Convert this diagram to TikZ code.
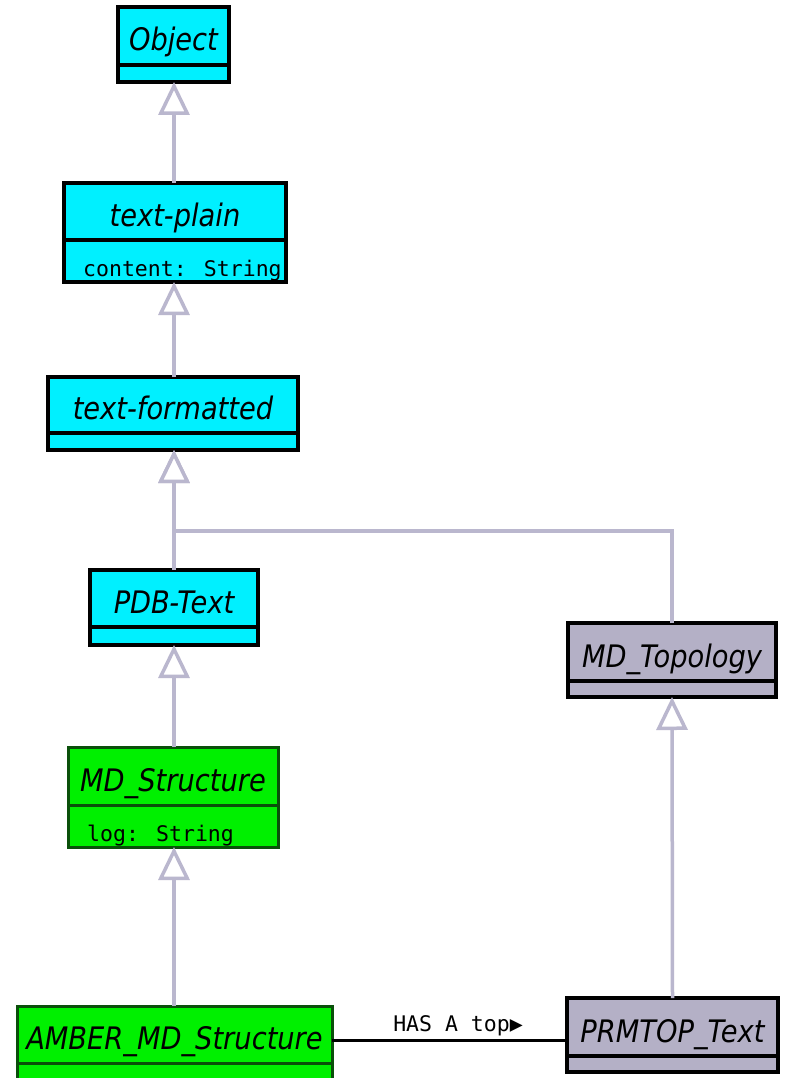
\documentclass[tikz,border=0pt]{standalone}
\usepackage{fontspec}
\newfontfamily\classfont[FakeStretch=0.88]{DejaVu Sans}
\newfontfamily\attrfont{DejaVu Sans Mono}
\usetikzlibrary{arrows.meta,fit}

\definecolor{clscyan}{RGB}{0,240,255}
\definecolor{clsgreen}{RGB}{0,240,0}
\definecolor{clsgray}{RGB}{180,176,198}
\definecolor{greenedge}{RGB}{10,80,10}
\definecolor{genline}{RGB}{186,183,206}

\tikzset{
  classbox/.style={rectangle, inner sep=0pt, outer sep=0pt},
  cyanbox/.style={draw=black, fill=clscyan, line width=3.5pt},
  greenbox/.style={draw=greenedge, fill=clsgreen, line width=3pt},
  graybox/.style={draw=black, fill=clsgray, line width=3.5pt},
  titletext/.style={font=\classfont\itshape\fontsize{31}{36}\selectfont, anchor=base, inner sep=0pt},
  attrtext/.style={font=\attrfont\fontsize{21.5}{24}\selectfont, anchor=base west, inner sep=0pt},
  gen/.style={draw=genline, line width=3.5pt, -{Triangle[length=33pt, width=31pt, fill=white]}},
  assoc/.style={draw=black, line width=3pt},
  assoclabel/.style={font=\attrfont\fontsize{21.5}{24}\selectfont, anchor=base, inner sep=0pt},
}

% #1 node name, #2 box style, #3 left, #4 top, #5 right, #6 divider, #7 bottom,
% #8 class name, #9 attributes
\newcommand{\umlclass}[9]{%
  \node[classbox, #2, fit={(#3,#4) (#5,#7)}] (#1) {};
  \draw[#2, fill=none] (#3,#6) -- (#5,#6);
  \node[titletext] (#1-name) at ({(#3+#5)/2}, #6-14) {#8};
  \node[attrtext] (#1-attr) at (#3+19, #7-6) {#9};
}

\begin{document}
\begin{tikzpicture}[x=1pt, y=-1pt]
  \clip (0,0) rectangle (784,1078);
  \fill[white] (0,0) rectangle (784,1078);

  % classes
  \umlclass{obj}{cyanbox}{118}{7}{229}{65}{82}{Object}{}
  \umlclass{tplain}{cyanbox}{64}{183}{286}{240}{282}{text-plain}{content: String}
  \umlclass{tfmt}{cyanbox}{48}{377}{298}{433}{450}{text-formatted}{}
  \umlclass{pdb}{cyanbox}{90}{570}{258}{627}{645}{PDB-Text}{}
  \umlclass{mdstruct}{greenbox}{68}{747}{278}{805}{847}{MD\_Structure}{log: String}
  \umlclass{amber}{greenbox}{17}{1006}{332}{1063}{1090}{AMBER\_MD\_Structure}{}
  \umlclass{mdtopo}{graybox}{568}{623}{776}{681}{697}{MD\_Topology}{}
  \umlclass{prm}{graybox}{567}{998}{778}{1056}{1072}{PRMTOP\_Text}{}

  % generalisation connectors
  \coordinate (spine) at (174,0);
  \coordinate (branch) at (174,531);
  \draw[gen] (spine |- tplain.north) -- (spine |- obj.south);
  \draw[gen] (spine |- tfmt.north) -- (spine |- tplain.south);
  \draw[gen] (spine |- pdb.north) -- (spine |- tfmt.south);
  \draw[gen] (mdtopo.north) |- (branch) -- (spine |- tfmt.south);
  \draw[gen] (spine |- mdstruct.north) -- (spine |- pdb.south);
  \draw[gen] (spine |- amber.north) -- (spine |- mdstruct.south);
  \draw[gen] (prm.north) -- (mdtopo.south);

  % association
  \coordinate (assocrow) at (0,1040);
  \draw[assoc] (amber.east |- assocrow) -- (prm.west |- assocrow);
  \node[assoclabel] (haslabel) at (458,1031) {HAS A top▶};
\end{tikzpicture}
\end{document}
